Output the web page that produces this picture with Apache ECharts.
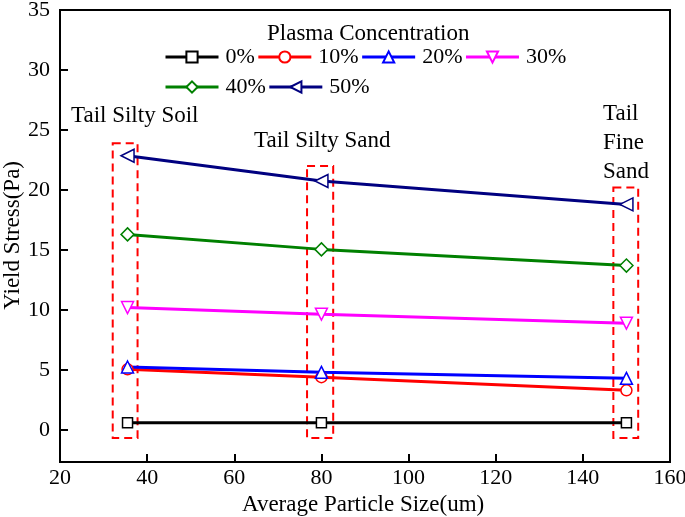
<!DOCTYPE html>
<html><head><meta charset="utf-8">
<script src="https://cdn.jsdelivr.net/npm/echarts@6/dist/echarts.min.js"></script>
<style>html,body{margin:0;padding:0;background:#fff}#c{width:685px;height:517px}</style>
</head><body><div id="c"></div>
<script>
const xVals = [35.5, 80, 150];
const names = ['0%', '10%', '20%', '30%', '40%', '50%'];
const s0 = [0.6, 0.6, 0.6];
const s10 = [5.05, 4.4, 3.3];
const s20 = [5.25, 4.8, 4.3];
const s30 = [10.2, 9.65, 8.9];
const s40 = [16.3, 15.05, 13.7];
const s50 = [22.85, 20.75, 18.8];
const yTicks = [0, 5, 10, 15, 20, 25, 30, 35];
const boxX = [[32.1, 37.8], [76.7, 82.7], [147.0, 152.7]];
const boxTop = [23.9, 22.0, 20.2];
const boxBottom = -0.67;
const boxLabels = [['Tail Silty Soil'], ['Tail Silty Sand'], ['Tail', 'Fine', 'Sand']];
const xName = 'Average Particle Size(um)';
const yName = 'Yield Stress(Pa)';

const FONT = 'Liberation Serif';
const colors = ['#000000', '#ff0000', '#0000ff', '#ff00ff', '#008000', '#000080'];
const symbols = ['rect', 'circle', 'triangle', 'triangle', 'diamond', 'triangle'];
const rotates = [0, 0, 0, 180, 0, 90];
const sizes = [10, 11, 12, 12, 13, 13];
const allData = [s0, s10, s20, s30, s40, s50];

const series = allData.map((arr, i) => ({
  name: names[i],
  type: 'line',
  data: arr.map((v, j) => [xVals[j], v]),
  symbol: symbols[i],
  symbolRotate: rotates[i],
  symbolSize: sizes[i],
  showAllSymbol: true,
  lineStyle: {color: colors[i], width: 3},
  itemStyle: {color: '#ffffff', borderColor: colors[i], borderWidth: 1.5},
  emphasis: {disabled: true},
  z: 3
}));

series[0].markArea = {
  silent: true,
  itemStyle: {color: 'rgba(0,0,0,0)', borderColor: '#ff0000', borderWidth: 2, borderType: [8, 5]},
  data: boxX.map((b, i) => [{coord: [b[0], boxTop[i]]}, {coord: [b[1], boxBottom]}])
};

const chart = echarts.init(document.getElementById('c'));
chart.setOption({
  animation: false,
  backgroundColor: '#ffffff',
  grid: {left: 60, right: 15, top: 10, bottom: 55, outerBoundsMode: 'none', containLabel: false,
         show: true, borderColor: '#000', borderWidth: 2, backgroundColor: 'transparent'},
  title: {text: 'Plasma Concentration', left: 262, top: 17, textStyle: {fontFamily: FONT, fontSize: 23, fontWeight: 'normal', color: '#000'}},
  legend: {
    data: names, left: 159, top: 38, width: 430, itemWidth: 53, itemHeight: 14, itemGap: 2,
    lineStyle: {width: 3},
    textStyle: {fontFamily: FONT, fontSize: 22, color: '#000', lineHeight: 28, padding: [0, 0, 0, 2]}
  },
  xAxis: {
    type: 'value', min: 20, max: 160, interval: 20,
    axisLine: {onZero: false, lineStyle: {color: '#000', width: 2}},
    axisTick: {inside: true, length: 8, lineStyle: {color: '#000', width: 2}},
    axisLabel: {fontFamily: FONT, fontSize: 22, color: '#000', margin: 5},
    splitLine: {show: false}
  },
  yAxis: {
    type: 'value', min: -2.67, max: 35,
    axisLine: {onZero: false, lineStyle: {color: '#000', width: 2}},
    axisTick: {inside: true, length: 8, customValues: yTicks, lineStyle: {color: '#000', width: 2}},
    axisLabel: {fontFamily: FONT, fontSize: 22, color: '#000', margin: 10, customValues: yTicks},
    splitLine: {show: false}
  },
  graphic: [
    {type: 'text', left: 1, top: 161, rotation: Math.PI / 2, style: {text: yName, font: '23px "Liberation Serif"', fill: '#000'}},
    {type: 'text', left: 242, top: 493, style: {text: xName, font: '23px "Liberation Serif"', fill: '#000'}},
    {type: 'text', left: 71, top: 104, style: {text: boxLabels[0].join('\n'), font: '23px "Liberation Serif"', fill: '#000'}},
    {type: 'text', left: 254, top: 129, style: {text: boxLabels[1].join('\n'), font: '23px "Liberation Serif"', fill: '#000'}},
    {type: 'text', left: 603, top: 99, style: {text: boxLabels[2].join('\n'), font: '23px "Liberation Serif"', fill: '#000', lineHeight: 29}}
  ],
  series: series
});
</script></body></html>
